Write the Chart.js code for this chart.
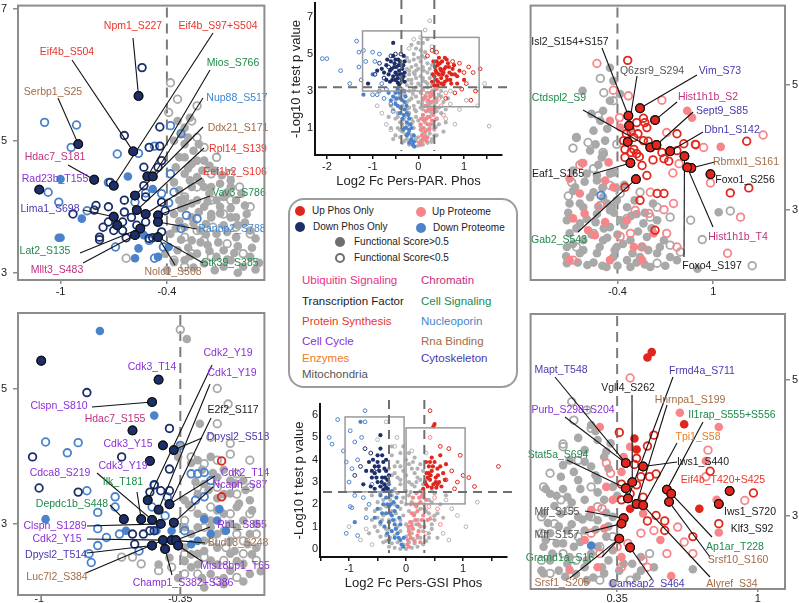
<!DOCTYPE html>
<html>
<head>
<meta charset="utf-8">
<script src="https://cdn.jsdelivr.net/npm/chart.js@4.4.1/dist/chart.umd.min.js"></script>
<style>
body { margin: 0; background: #fff; }
#page { position: relative; width: 799px; height: 603px; overflow: hidden; background: #fff; font-family: 'Liberation Sans', Arial, sans-serif; color: #222; }
#page canvas { position: absolute; }
#legend { position: absolute; left: 288px; top: 198px; width: 230px; height: 190px; box-sizing: border-box; border: 2px solid #9c9c9c; border-radius: 16px; }
#legend .t { position: absolute; white-space: nowrap; transform: translateY(-50%); line-height: 1; }
#legend .s { font-size: 10px; color: #222; }
#legend .c { font-size: 11.5px; }
#legend .dot { position: absolute; width: 10px; height: 10px; border-radius: 50%; transform: translate(-50%, -50%); box-sizing: border-box; }
</style>
</head>
<body>
<div id="page">
  <canvas id="tl" width="270" height="300" style="left:0;top:0"></canvas>
  <canvas id="tr" width="274" height="300" style="left:525px;top:0"></canvas>
  <canvas id="bl" width="270" height="303" style="left:0;top:300px"></canvas>
  <canvas id="br" width="274" height="303" style="left:525px;top:300px"></canvas>
  <canvas id="par" width="240" height="195" style="left:280px;top:0"></canvas>
  <canvas id="gsi" width="240" height="208" style="left:280px;top:395px"></canvas>
  <div id="legend">
    <div class="dot" style="left:10px;top:11px;background:#e2261d"></div>
    <div class="t s" style="left:22px;top:11px">Up Phos Only</div>
    <div class="dot" style="left:10px;top:27px;background:#1c2f6b"></div>
    <div class="t s" style="left:23px;top:27px">Down Phos Only</div>
    <div class="dot" style="left:131px;top:12px;background:#f6868a"></div>
    <div class="t s" style="left:142px;top:12px">Up Proteome</div>
    <div class="dot" style="left:131px;top:28px;background:#4a82cc"></div>
    <div class="t s" style="left:143px;top:28px">Down Proteome</div>
    <div class="dot" style="left:50px;top:42px;background:#6e6e6e"></div>
    <div class="t s" style="left:64px;top:42px">Functional Score&gt;0.5</div>
    <div class="dot" style="left:50px;top:58px;border:2px solid #6e6e6e"></div>
    <div class="t s" style="left:64px;top:58px">Functional Score&lt;0.5</div>
    <div class="t c" style="left:12px;top:81px;color:#ec2f88">Ubiquitin Signaling</div>
    <div class="t c" style="left:131px;top:81px;color:#c2307f">Chromatin</div>
    <div class="t c" style="left:12px;top:102px;color:#1a1a1a">Transcription Factor</div>
    <div class="t c" style="left:131px;top:102px;color:#1e8a4a">Cell Signaling</div>
    <div class="t c" style="left:12px;top:122px;color:#e8352b">Protein Synthesis</div>
    <div class="t c" style="left:131px;top:122px;color:#3f86d0">Nucleoporin</div>
    <div class="t c" style="left:12px;top:142px;color:#8b2fd8">Cell Cycle</div>
    <div class="t c" style="left:131px;top:142px;color:#a36c45">Rna Binding</div>
    <div class="t c" style="left:12px;top:159px;color:#f07a1c">Enzymes</div>
    <div class="t c" style="left:131px;top:159px;color:#4738b0">Cytoskeleton</div>
    <div class="t c" style="left:12px;top:175px;color:#555555">Mitochondria</div>
  </div>
</div>
<script>
const FONT = "'Liberation Sans', Arial, sans-serif";
const RED = '#e2261d', NAVY = '#1c2f6b', PINK = '#f6868a', BLUE = '#4a82cc', GREY = '#a9a9a9';
const CAT = {
    ubiq: '#ec2f88', chrom: '#c2307f', tf: '#1a1a1a', cell: '#1e8a4a', prot: '#e8352b',
    nuc: '#3f86d0', cyc: '#8b2fd8', rna: '#a36c45', enz: '#f07a1c', cyto: '#4738b0', mito: '#555555'
};

// ---------- top-left: down phos, Pers vs PAR (zoom) ----------
const tlKey = [[-0.56,5.68],[-0.90,4.95],[-0.59,4.84],[-0.81,4.41],[-1.12,4.26],[-0.70,4.32],[-0.51,4.46],[-0.48,4.46],[-0.58,4.17],[-0.57,3.95],[-0.70,3.85],[-0.52,3.89],[-0.45,3.87],[-0.45,3.77],[-0.68,3.72],[-0.55,3.67],[-0.58,3.57],[-0.45,3.54]];
const tlNames = [['Npm1_S227','prot',0],['Eif4b_S97+S504','prot',5],['Eif4b_S504','prot',2],['Mios_S766','cell',6],['Serbp1_S25','rna',1],['Nup88_S517','nuc',7],['Ddx21_S171','rna',8],['Rpl14_S139','prot',9],['Hdac7_S181','chrom',3],['Eef1b2_S106','prot',11],['Rad23b_T155','cyc',-1],['Vav3_S786','cell',12],['Lima1_S698','cyto',10],['Ranbp2_S788','nuc',13],['Lat2_S135','cell',15],['Stk39_S385','cell',17],['Mllt3_S483','chrom',16],['Nolc1_S508','rna',17]];
const tlNavyOpen = [[-0.54,6.11],[-0.64,5.08],[-0.44,5.21],[-0.50,4.90],[-0.44,4.92],[-0.43,4.70],[-0.53,4.60],[-0.45,4.60],[-0.72,4.37],[-0.53,4.32],[-0.64,4.10],[-0.52,4.15],[-0.43,4.07],[-0.80,4.02],[-0.81,3.95],[-0.93,3.89],[-0.73,4.00],[-0.64,3.92],[-0.60,3.84],[-0.73,3.77],[-0.65,3.77],[-0.76,3.69],[-0.70,3.64],[-0.65,3.64],[-0.78,3.54],[-0.78,3.50],[-0.63,3.53],[-0.50,3.52],[-0.48,3.53],[-0.43,3.62],[-0.52,3.77],[-0.41,3.94],[-0.57,3.72]];
const tlBlueOpen = [[-1.09,5.28],[-0.91,5.24],[-0.94,4.90],[-0.68,4.80],[-0.56,4.81],[-0.38,5.23],[-0.32,5.11],[-0.47,4.92],[-0.73,4.37],[-1.07,4.22],[-1.01,4.07],[-0.85,3.94],[-0.52,4.21],[-0.58,4.07],[-0.39,4.06],[-0.36,4.22],[-0.43,4.20],[-0.29,3.87],[-0.69,3.39],[-0.47,3.22],[-0.42,3.39],[-0.50,3.49],[-0.38,4.50],[-0.23,3.82],[-0.32,3.67]];
const tlBlueFill = [[-1.0,4.42],[-0.88,3.82],[-1.01,3.53],[-1.0,3.53],[-0.62,4.46],[-0.48,4.27],[-0.53,3.57],[-0.58,3.22],[-0.45,3.24],[-0.39,3.39],[-0.56,3.37]];
const tlGreyOpen = [[-0.38,5.88],[-0.34,5.63],[-0.23,5.53],[-0.39,5.43],[-0.26,5.30],[-0.23,5.05],[-0.19,4.90],[-0.12,4.75],[-0.15,4.50],[-0.04,4.50],[0.01,4.30],[-0.23,4.30],[-0.30,4.15],[-0.15,4.10],[-0.04,4.10],[0.07,4.00],[-0.08,3.89],[-0.23,3.64],[-0.14,3.69],[-0.01,3.69],[-0.30,3.54],[-0.19,3.49],[-0.06,3.44],[-0.26,3.29],[-0.15,3.24],[-0.36,3.19],[0.07,3.59],[0.03,3.29],[-0.63,3.22],[-0.30,3.09]];
const tlGreyFill = [[-0.34,5.30],[-0.30,5.20],[-0.27,5.35],[-0.36,5.0],[-0.30,4.95],[-0.25,4.85],[-0.33,4.75],[-0.26,4.65],[-0.19,4.70],[-0.30,4.50],[-0.23,4.45],[-0.13,4.55],[-0.36,4.37],[-0.26,4.30],[-0.19,4.30],[-0.10,4.35],[-0.04,4.30],[-0.33,4.10],[-0.23,4.10],[-0.12,4.10],[-0.01,4.10],[-0.19,4.0],[-0.36,3.89],[-0.26,3.84],[-0.15,3.84],[-0.04,3.84],[0.05,3.89],[-0.30,3.69],[-0.21,3.64],[-0.12,3.59],[-0.01,3.54],[-0.38,3.59],[-0.26,3.49],[-0.17,3.42],[-0.08,3.34],[-0.34,3.34],[-0.23,3.29],[-0.12,3.24],[-0.04,3.19],[0.07,3.24],[-0.30,3.19],[-0.19,3.14],[-0.08,3.09],[0.03,3.09],[-0.15,3.89],[-0.08,4.15],[-0.15,4.30],[-0.23,4.70],[-0.30,4.75],[-0.04,4.40],[-0.01,3.84],[0.07,3.64],[-0.41,3.29],[-0.30,4.0],
    [-0.32,5.10],[-0.28,5.05],[-0.22,4.95],[-0.35,4.60],[-0.28,4.58],[-0.20,4.55],[-0.16,4.62],[-0.09,4.48],[-0.27,4.40],[-0.21,4.38],[-0.33,4.25],[-0.16,4.20],[-0.06,4.22],[0.02,4.20],[-0.30,4.12],[-0.26,4.05],[-0.17,4.08],[-0.10,4.00],[-0.04,3.98],[0.04,4.02],[-0.32,3.98],[-0.22,3.92],[-0.10,3.90],[0.00,3.72],[-0.33,3.78],[-0.25,3.75],[-0.18,3.74],[-0.08,3.72],[0.04,3.76],[-0.35,3.67],[-0.18,3.58],[-0.06,3.62],[0.10,3.52],[-0.32,3.50],[-0.21,3.46],[-0.11,3.46],[0.00,3.40],[0.08,3.38],[-0.28,3.38],[-0.16,3.33],[-0.02,3.30],[-0.27,3.25],[-0.06,3.20],[0.12,3.15],[-0.36,3.16],[-0.25,3.08],[-0.13,3.04],[0.00,3.00],[0.10,3.05],[-0.40,3.04]];

// ---------- top-right: up phos, Pers vs PAR (zoom) ----------
const trKey = [[-0.24,4.51],[-0.23,4.35],[-0.07,4.63],[0.15,4.44],[0.08,4.0],[0.17,4.04],[0.37,3.94],[0.68,3.67],[-0.21,3.75],[0.96,3.57],[-0.13,3.49],[0.62,3.68],[0.58,3.86],[-0.25,4.09]];
const trNames = [['Isl2_S154+S157','tf',0],['Q6zsr9_S294','mito',1],['Vim_S73','cyto',2],['Hist1h1b_S2','chrom',3],['Ctdspl2_S9','cell',4],['Sept9_S85','cyto',5],['Dbn1_S142','cyto',6],['Rbmxl1_S161','rna',7],['Eaf1_S165','tf',8],['Foxo1_S256','tf',-1],['Gab2_S543','cell',10],['Hist1h1b_T4','chrom',11],['Foxo4_S197','tf',12]];
const trRedOpen = [[-0.25,5.40],[-0.02,4.47],[0.0,4.40],[-0.12,4.40],[-0.31,4.11],[-0.16,4.16],[-0.02,4.11],[-0.16,3.97],[-0.12,3.90],[-0.29,3.97],[-0.29,3.84],[-0.04,3.71],[0.03,3.55],[0.25,3.92],[0.28,3.82],[0.47,3.95],[0.57,4.06],[0.74,4.05],[-0.29,3.36],[0.18,3.26],[0.28,3.26],[-0.07,3.15],[0.15,2.67],[0.03,4.32],[1.49,4.10],[1.25,3.27],[1.52,3.35],[0.47,4.22],[-0.20,4.25],[-0.10,4.22],[-0.27,4.22],[-0.20,3.92],[0.05,4.10],[-0.08,3.85],[0.12,3.80],[0.35,3.78]];
const trPinkOpen = [[-0.70,5.35],[-0.46,4.92],[-0.24,4.83],[0.25,4.76],[-0.37,4.48],[0.32,4.24],[0.86,4.0],[0.75,4.04],[0.41,3.59],[0.50,3.74],[1.73,4.20],[0.96,3.43],[1.40,2.88],[1.21,2.30],[0.08,3.28],[-0.14,2.99],[0.06,2.94],[0.28,3.0],[0.42,3.10],[-0.95,3.72],[-0.36,2.57],[0.47,2.40],[-0.04,2.40],[-0.21,2.62],[-0.65,3.07],[0.32,2.62],[-1.05,2.19]];
const trPinkFill = [[0.62,4.59],[0.69,4.48],[1.11,4.01],[-0.90,3.75],[-1.10,3.50],[-0.53,3.76],[-0.51,4.43],[-0.36,4.32],[-0.21,4.30],[-0.95,3.26],[-0.83,2.67],[-0.58,2.80],[-0.88,2.94],[-0.73,2.59],[-1.10,2.19],[-0.51,2.19],[-0.26,2.83],[-0.04,2.19],[0.13,2.62],[-0.46,3.36],[-0.58,3.47],[-0.16,2.40],[-1.05,2.86]];
const trBlueOpen = [[-0.64,3.23]];
const trGreyOpen = [[-0.65,5.11],[-0.60,4.88],[-0.46,4.75],[-0.68,4.51],[-1.0,4.16],[-1.05,3.99],[-0.41,4.05],[-0.83,4.08],[-0.61,3.92],[-0.75,3.66],[-1.07,3.44],[-0.51,3.39],[-0.36,3.26],[-1.12,3.22],[-0.07,3.28],[0.18,3.04],[-0.26,2.86],[0.08,2.88],[0.37,2.88],[0.67,2.83],[1.25,2.98],[0.84,2.52],[0.37,2.43],[1.57,2.10],[0.52,2.32],[0.18,2.14],[-0.75,2.62],[-1.0,2.40]];
const trGreyFill = [[-0.91,4.91],[-0.51,5.28],[-0.46,5.07],[-0.78,4.54],[-0.65,4.43],[-1.0,4.16],[-0.61,4.59],[-0.51,4.75],[-0.75,4.27],[-0.58,4.11],[-0.80,3.95],[-0.63,3.84],[-1.05,3.63],[-0.85,3.58],[-0.70,3.47],[-0.51,3.58],[-1.02,3.36],[-0.75,3.28],[-0.61,3.20],[-0.41,3.15],[-1.10,3.10],[-0.90,3.04],[-0.70,2.93],[-0.51,2.99],[-0.26,3.04],[-0.12,2.93],[-1.14,2.83],[-0.95,2.78],[-0.51,2.72],[-0.36,2.83],[-0.02,2.78],[0.18,2.83],[-1.10,2.62],[-0.90,2.51],[-0.61,2.51],[-0.41,2.40],[-0.21,2.51],[0.03,2.56],[0.28,2.51],[-1.14,2.40],[-0.95,2.30],[-0.70,2.30],[-0.46,2.24],[-0.26,2.19],[-0.07,2.24],[0.18,2.30],[0.37,2.24],[-1.14,2.14],[-0.84,2.11],[-0.56,2.08],[-0.21,2.08],[0.08,2.08],[0.47,2.19],[1.08,2.96],[0.77,2.05],[-0.36,4.86],
    [-1.12,2.95],[-1.0,2.70],[-0.95,3.10],[-0.85,2.85],[-0.80,3.20],[-0.72,2.80],[-0.68,3.05],[-0.60,2.70],[-0.55,3.10],[-0.45,2.95],[-0.40,2.60],[-0.30,2.75],[-0.20,2.90],[-0.10,2.65],[0.00,2.95],[0.10,2.70],[-1.05,2.45],[-0.90,2.35],[-0.78,2.60],[-0.66,2.40],[-0.55,2.55],[-0.44,2.35],[-0.32,2.45],[-0.18,2.30],[-0.05,2.40],[0.05,2.35],[0.22,2.40],[-1.15,2.25],[-0.98,2.15],[-0.75,2.15],[-0.62,2.10],[-0.40,2.10],[-0.12,2.15],[0.00,2.12],[0.30,2.10],[-0.88,3.45],[-0.70,3.55],[-0.62,3.35],[-0.42,3.35],[-0.92,3.75],[-0.68,3.72],[-0.45,3.60],[-0.72,4.05],[-0.60,3.90],[-0.55,4.30],[-0.30,3.40],[-0.15,3.15],[0.12,3.10],[-0.48,3.05],[-1.05,3.30]];

// ---------- bottom-left: down phos, Pers vs GSI (zoom) ----------
const blKey = [[-0.99,5.41],[-0.45,5.13],[-0.48,4.80],[-0.57,4.38],[-0.43,4.16],[-0.38,4.09],[-0.49,3.93],[-0.50,3.35],[-0.45,3.21],[-0.40,3.29],[-0.61,3.07],[-0.53,3.07],[-0.48,3.06],[-0.44,3.00],[-0.38,3.02],[-0.43,2.76],[-0.39,2.76],[-0.37,2.76],[-0.48,2.68],[-0.42,2.63],[-0.36,2.68]];
const blNames = [['Cdk2_Y19','cyc',7],['Cdk3_T14','cyc',-1],['Cdk1_Y19','cyc',8],['Clspn_S810','cyc',2],['E2f2_S117','tf',9],['Hdac7_S155','chrom',-1],['Dpysl2_S518','cyto',5],['Cdk3_Y15','cyc',-1],['Cdk3_Y19','cyc',-1],['Cdca8_S219','cyc',12],['Cdk2_T14','cyc',9],['Ilk_T181','cell',11],['Ncaph_S87','cyc',14],['Depdc1b_S448','cell',10],['Clspn_S1289','cyc',13],['Rb1_S855','cyc',17],['Cdk2_Y15','cyc',15],['Bud13_S248','rna',16],['Dpysl2_T514','cyto',18],['Mis18bp1_T653','cyc',20],['Luc7l2_S384','rna',15],['Champ1_S382+S386','cyc',19]];
const blNavyOpen = [[-0.78,4.94],[-0.40,4.41],[-1.03,3.99],[-0.62,3.99],[-1.0,3.53],[-0.82,3.47],[-0.40,3.81],[-0.47,3.58],[-0.44,3.49],[-0.40,3.49],[-0.38,3.01],[-0.49,2.90],[-0.57,2.85],[-0.56,2.70],[-0.47,2.90],[-0.49,3.47],[-0.52,2.85]];
const blBlueFill = [[-0.72,5.85],[-0.47,4.60],[-0.97,3.07],[-0.60,2.90],[-0.46,2.90],[-0.39,2.90],[-0.24,3.07],[-0.21,2.85],[-0.27,2.75],[-0.30,2.70],[-0.18,3.05],[-0.17,3.22],[-0.14,2.90]];
const blBlueOpen = [[-0.97,4.21],[-0.82,4.20],[-0.87,4.05],[-0.78,3.49],[-0.73,3.17],[-0.73,2.93],[-0.65,3.40],[-0.65,3.25],[-0.73,2.68],[-0.77,2.56],[-0.76,2.43],[-0.69,2.80],[-0.63,2.85],[-0.54,2.60],[-0.47,3.57],[-0.41,3.40],[-0.35,4.16],[-0.30,3.74],[-0.27,3.74],[-0.24,3.76],[-0.28,3.35],[-0.24,3.40],[-0.21,3.64],[-0.48,3.25],[-0.42,3.12],[-0.33,2.90]];
const blRedOpen = [[-0.16,3.93],[-0.16,3.40]];
const blGreyOpen = [[-0.35,5.87],[-0.18,5.0],[-0.13,4.77],[-0.18,4.48],[-0.12,4.03],[-0.24,3.89],[-0.21,4.28],[-0.12,4.19],[-0.18,3.94],[-0.09,3.74],[-0.03,3.94],[-0.30,3.99],[-0.27,3.54],[-0.18,3.54],[-0.09,3.44],[-0.03,3.54],[-0.30,3.25],[-0.21,3.25],[-0.12,3.15],[-0.03,3.15],[-0.33,3.05],[-0.24,2.95],[-0.09,2.85],[0.0,2.85],[-0.33,2.56],[-0.24,2.51],[-0.15,2.46],[-0.06,2.56],[0.0,2.46],[-0.27,2.26],[-0.18,2.16],[-0.09,2.21],[-0.57,2.51],[-0.53,2.41],[-0.62,2.51],[-0.45,2.31],[-0.39,2.36],[-0.33,2.26],[-0.20,2.75],[-0.06,2.75],[-0.14,2.65]];
const blGreyFill = [[-0.32,5.73],[-0.26,4.48],[-0.35,4.16],[-0.36,3.99],[-0.27,3.94],[-0.21,3.99],[-0.24,3.59],[-0.18,3.69],[-0.12,3.64],[-0.15,3.44],[-0.06,3.64],[-0.33,3.35],[-0.27,3.15],[-0.21,3.05],[-0.15,3.15],[-0.09,3.25],[-0.03,3.35],[-0.30,2.85],[-0.24,2.75],[-0.18,2.85],[-0.12,2.75],[-0.03,2.85],[-0.27,2.56],[-0.21,2.46],[-0.12,2.56],[-0.06,2.41],[-0.30,2.36],[-0.21,2.26],[-0.12,2.31],[-0.03,2.26],[-0.15,2.11],[-0.24,2.06],[-0.33,2.65],[0.0,2.65],[-0.27,3.44],
    [-0.30,3.90],[-0.25,3.80],[-0.20,3.75],[-0.15,3.80],[-0.10,3.60],[-0.05,3.50],[-0.28,3.62],[-0.22,3.50],[-0.18,3.38],[-0.12,3.45],[-0.08,3.30],[-0.02,3.20],[-0.31,3.28],[-0.24,3.10],[-0.18,3.20],[-0.12,3.00],[-0.06,3.05],[0.00,3.00],[-0.33,2.95],[-0.27,2.95],[-0.21,2.95],[-0.15,2.90],[-0.09,2.95],[-0.04,2.70],[-0.30,2.55],[-0.24,2.60],[-0.18,2.65],[-0.10,2.60],[-0.02,2.55],[-0.27,2.40],[-0.18,2.40],[-0.09,2.45],[-0.25,2.20],[-0.15,2.20],[-0.06,2.15],[-0.33,2.45],[-0.36,2.20],[-0.40,2.50],[-0.45,2.40],[0.02,2.30]];

// ---------- bottom-right: up phos, Pers vs GSI (zoom) ----------
const brKey = [[0.39,3.78],[0.47,3.73],[0.42,3.50],[0.39,3.41],[0.40,3.26],[0.44,3.18],[0.47,3.16],[0.58,3.39],[0.60,3.33],[0.59,3.21],[0.87,3.37],[0.82,3.18],[0.38,2.97],[0.37,2.89],[0.36,2.67],[0.41,2.54]];
const brNames = [['Mapt_T548','cyto',0],['Frmd4a_S711','cyto',4],['Vgll4_S262','tf',2],['Hnrnpa1_S199','rna',5],['Purb_S298+S204','cyc',0],['Il1rap_S555+S556','cell',7],['Tpi1_S58','enz',6],['Iws1_S440','tf',1],['Stat5a_S694','cell',3],['Eif4b_T420+S425','prot',-1],['Iws1_S720','tf',-1],['Mff_S155','mito',12],['Klf3_S92','tf',-1],['Mff_S157','mito',13],['Ap1ar_T228','cell',8],['Gramd1a_S16','cell',14],['Srsf10_S160','rna',9],['Srsf1_S205','rna',14],['Camsap2_S464','cyto',15],['Alyref_S34','rna',6]];
const brRedFill = [[0.49,5.33],[0.51,5.41],[0.43,4.14],[0.66,4.35],[0.44,3.98],[0.73,3.11],[0.41,3.11]];
const brRedOpen = [[0.36,4.23],[0.49,4.03],[0.52,4.19],[0.44,3.85],[0.43,3.76],[0.37,3.47],[0.37,3.24],[0.44,3.46],[0.53,3.62],[0.47,3.28],[0.50,3.58],[0.78,3.66],[0.98,3.34],[0.57,2.93],[0.57,2.79],[0.70,2.70],[0.82,2.89],[0.49,2.93],[0.53,3.01],[0.41,3.33],[0.46,3.58]];
const brPinkOpen = [[0.41,5.03],[0.77,3.97],[0.76,3.58],[0.94,3.23],[0.30,3.78],[0.32,3.63],[0.52,2.79],[0.63,2.84],[0.66,2.62],[0.70,2.45],[0.58,2.45],[0.47,2.35],[0.37,2.25],[0.27,2.45],[0.23,2.75],[0.49,2.25],[0.40,2.60],[0.28,3.11],[0.35,2.55],[0.46,2.75]];
const brPinkFill = [[0.64,4.52],[0.82,4.31],[0.27,4.31],[0.76,3.81],[0.81,3.24],[0.82,2.76],[0.60,2.12],[0.37,3.65],[0.38,3.87],[0.41,4.02],[0.55,2.65],[0.29,2.82],[0.20,2.65],[0.23,3.09],[0.13,2.21],[0.30,3.43],[0.33,3.24],[0.47,3.04],[0.37,2.40],[0.26,2.25]];
const brBlueFill = [[0.23,2.57]];
const brGreyOpen = [[0.14,4.68],[0.10,4.06],[0.10,4.02],[0.23,4.29],[0.04,3.63],[0.17,3.82],[0.01,3.43],[0.23,3.43],[0.09,3.24],[0.0,2.99],[0.13,3.09],[0.26,3.14],[0.06,2.89],[0.23,2.99],[0.0,2.75],[0.17,2.70],[0.10,2.45],[0.27,2.55],[0.0,2.35],[0.16,2.35],[0.04,2.16],[0.27,2.06],[0.41,2.06],[0.50,2.45],[0.33,2.70],[0.15,4.41],[0.21,4.56]];
const brGreyFill = [[0.23,4.34],[0.26,4.12],[0.20,3.97],[0.29,3.87],[0.13,3.82],[0.23,3.73],[0.32,4.07],[0.09,3.58],[0.17,3.53],[0.26,3.53],[0.33,3.43],[0.04,3.33],[0.12,3.28],[0.20,3.24],[0.29,3.24],[0.01,3.04],[0.09,3.04],[0.17,2.99],[0.26,2.94],[0.33,2.99],[0.04,2.75],[0.12,2.79],[0.20,2.79],[0.30,2.70],[0.01,2.55],[0.07,2.60],[0.15,2.55],[0.23,2.45],[0.31,2.35],[0.04,2.35],[0.12,2.30],[0.20,2.25],[0.29,2.16],[0.38,2.30],[0.46,2.40],[0.52,2.25],[0.01,2.16],[0.11,2.11],[0.21,2.06],[0.33,2.01],[0.44,2.11],[0.70,2.22],
    [0.02,3.40],[0.06,3.15],[0.10,3.40],[0.14,3.20],[0.18,3.40],[0.22,3.00],[0.26,3.35],[0.30,3.05],[0.03,2.90],[0.08,2.85],[0.14,2.88],[0.19,2.95],[0.25,2.80],[0.31,2.85],[0.02,2.65],[0.10,2.60],[0.18,2.62],[0.26,2.55],[0.33,2.50],[0.05,2.45],[0.13,2.40],[0.21,2.35],[0.28,2.25],[0.08,2.20],[0.16,2.15],[0.24,2.10],[0.36,2.20],[0.42,2.30],[0.46,2.20],[0.00,2.20],[0.15,3.65],[0.20,3.80],[0.25,3.60],[0.10,3.75],[0.31,3.70],[0.17,4.15],[0.25,4.25],[0.30,3.95],[0.07,3.30],[0.35,3.30]];

// ---------- middle: full volcano, Pers vs PAR ----------
const parNavyFill = [[-0.8,4.2],[-0.75,4.0],[-0.7,4.4],[-0.65,3.9],[-0.6,4.6],[-0.58,4.2],[-0.55,3.8],[-0.52,4.5],[-0.5,4.0],[-0.48,4.3],[-0.45,3.7],[-0.44,4.7],[-0.42,4.1],[-0.4,3.9],[-0.38,4.4],[-0.36,3.6],[-0.35,4.2],[-0.33,3.8],[-0.32,4.9],[-0.3,4.0],[-0.3,3.5],[-0.55,5.6],[-0.62,3.5],[-0.9,4.1],[-1.1,3.4],[-0.45,3.45],[-0.4,4.6],[-0.5,3.6],[-0.35,3.7],[-0.7,3.6],
    [-0.62,4.1],[-0.57,3.6],[-0.53,4.3],[-0.47,3.9],[-0.43,4.4],[-0.37,3.9],[-0.33,4.4],[-0.3,4.6],[-0.68,4.7],[-0.55,4.9],[-0.42,3.35],[-0.5,4.7]];
const parNavyOpen = [[-0.85,4.5],[-0.6,4.9],[-0.75,3.7],[-0.95,3.9],[-0.5,5.0],[-0.65,4.3],[-0.38,5.0],[-0.42,3.55]];
const parBlueFill = [[-1.0,3.9],[-0.55,2.7],[-0.45,2.2],[-0.35,1.5],[-0.3,1.0],[-0.25,0.6],[-0.2,0.2],[-0.5,2.9],[-0.6,2.5],[-0.4,1.8],[-0.35,2.5],[-0.3,2.0],[-0.25,1.3],[-0.2,0.9],[-0.15,0.4],[-0.45,3.1],[-0.3,3.0],[-0.28,2.7],[-0.22,1.7],[-0.18,1.2],[-0.4,2.6],[-0.5,2.3],[-0.33,0.9],[-0.12,0.1],[-0.1,0.6],[-0.65,2.9],[-1.2,2.8],
    [-0.38,2.1],[-0.32,1.7],[-0.27,1.0],[-0.22,0.7],[-0.17,0.3],[-0.42,2.9],[-0.36,3.0],[-0.3,2.4],[-0.25,1.8],[-0.2,1.5],[-0.15,1.0],[-0.1,0.25],[-0.48,2.6],[-0.08,0.0],[-0.26,2.2]];
const parBlueOpen = [[-2.1,4.75],[-2.0,4.75],[-1.7,4.1],[-1.35,5.7],[-1.3,5.1],[-1.2,5.2],[-1.0,5.1],[-1.15,4.6],[-1.3,4.3],[-1.25,3.6],[-0.95,4.6],[-0.85,5.0],[-0.8,3.4],[-0.7,3.1],[-1.0,2.8],[-0.9,2.8],[-0.6,2.3],[-0.75,2.6],[-1.5,3.4],[-0.85,3.0],[-0.55,1.9]];
const parRedFill = [[0.3,3.5],[0.35,3.8],[0.38,4.1],[0.4,3.6],[0.42,4.4],[0.45,3.9],[0.48,4.2],[0.5,3.7],[0.52,4.6],[0.55,4.0],[0.58,3.5],[0.6,4.3],[0.62,3.8],[0.65,4.5],[0.68,4.0],[0.7,3.6],[0.75,4.2],[0.8,3.9],[0.85,3.4],[0.9,4.1],[0.45,4.8],[0.35,3.3],[0.55,3.35],[0.4,4.0],[0.5,4.1],[0.33,4.6],[1.0,3.6],[0.72,3.4],[0.62,4.7],
    [0.32,3.9],[0.37,4.3],[0.43,3.5],[0.47,4.5],[0.53,3.9],[0.57,4.2],[0.63,3.6],[0.67,4.3],[0.73,3.9],[0.78,4.4],[0.85,3.8],[0.42,3.3],[0.5,3.4],[0.58,4.8],[0.4,4.6]];
const parRedOpen = [[1.1,4.3],[1.2,4.0],[1.35,4.2],[1.05,3.4],[0.95,3.1],[0.8,2.9],[1.25,3.0],[1.15,2.5],[0.3,5.2],[0.2,4.9],[0.75,4.6],[0.9,4.5],[1.0,4.0],[0.4,5.1],[0.6,2.6]];
const parPinkFill = [[0.05,0.1],[0.1,0.4],[0.15,0.8],[0.2,1.2],[0.25,1.6],[0.3,2.0],[0.35,2.5],[0.08,0.6],[0.12,1.0],[0.18,1.5],[0.22,2.0],[0.28,2.4],[0.32,2.8],[0.15,2.2],[0.25,2.9],[0.1,1.7],[0.2,0.5],[0.05,1.2],[0.4,3.1],[0.3,1.4],[0.35,1.0],[0.16,2.7],[0.06,0.3],[0.24,0.9],
    [0.02,0.2],[0.07,0.9],[0.12,1.4],[0.17,1.9],[0.22,2.5],[0.27,2.7],[0.3,2.9],[0.18,0.3],[0.26,1.2],[0.33,1.7],[0.38,2.1],[0.1,2.6],[0.14,0.5],[0.2,2.2],[0.06,1.5]];
const parPinkOpen = [[0.45,2.6],[0.5,2.2],[0.55,1.7],[0.4,1.5],[0.12,2.9],[0.6,2.9]];
const parGreyOpen = [[0.25,6.8],[0.15,6.3],[-0.1,5.8],[0.05,5.9],[-0.2,5.3],[0.3,5.4],[0.7,2.3],[0.9,2.0],[1.05,2.5],[1.3,3.1],[1.45,3.4],[-0.7,1.2],[-0.8,1.8],[0.6,1.5],[0.8,1.2],[-0.6,0.9],[1.3,2.2],[1.55,1.1],[-0.9,2.2],[0.7,3.0]];
const parGreyFill = [[-0.4,0.5],[-0.3,0.3],[-0.2,0.1],[-0.1,0.0],[0.0,0.05],[0.1,0.1],[0.2,0.2],[0.3,0.4],[0.4,0.6],[-0.45,1.0],[-0.35,0.8],[-0.15,0.6],[0.0,0.5],[0.15,0.4],[0.35,0.9],[0.45,1.2],[-0.5,1.5],[-0.4,1.3],[-0.25,1.1],[-0.1,1.0],[0.05,0.9],[0.25,1.0],[0.4,1.5],[0.5,1.8],[-0.55,2.0],[-0.45,1.8],[-0.3,1.6],[-0.15,1.5],[0.0,1.4],[0.15,1.3],[0.3,1.8],[0.45,2.1],[-0.5,2.5],[-0.35,2.2],[-0.2,2.1],[-0.05,1.9],[0.1,2.0],[0.25,2.3],[0.4,2.6],[0.55,2.4],[-0.45,3.0],[-0.3,2.8],[-0.15,2.6],[0.0,2.4],[0.15,2.6],[0.3,3.0],[0.5,3.0],[-0.4,3.4],[-0.25,3.3],[-0.1,3.1],[0.05,2.9],[0.2,3.2],[0.35,3.1],[-0.3,3.8],[-0.15,3.6],[0.0,3.4],[0.15,3.5],[0.25,3.7],[-0.25,4.2],[-0.1,4.0],[0.05,3.8],[0.2,4.0],[-0.2,4.6],[-0.05,4.4],[0.1,4.3],[0.15,4.8],[-0.1,5.0],[0.05,5.2],[-0.15,5.5],[0.1,5.6],
    [-0.35,0.2],[-0.25,0.4],[-0.05,0.3],[0.05,0.15],[0.15,0.6],[0.25,0.7],[0.35,0.6],[-0.4,0.9],[-0.2,0.8],[0.1,0.7],[0.3,1.2],[0.2,0.9],[-0.35,1.2],[-0.15,1.2],[0.05,1.1],[0.2,1.6],[0.35,1.4],[-0.45,1.6],[-0.2,1.8],[-0.05,1.6],[0.1,1.7],[0.25,1.9],[0.4,1.9],[-0.4,2.1],[-0.25,2.4],[-0.1,2.2],[0.05,2.1],[0.2,2.4],[0.35,2.3],[0.5,2.7],[-0.4,2.7],[-0.2,2.5],[-0.05,2.7],[0.1,2.5],[0.25,2.7],[0.45,2.8],[-0.35,3.1],[-0.2,3.0],[-0.05,3.2],[0.1,3.1],[0.3,3.3],[-0.3,3.5],[-0.15,3.4],[0.05,3.3],[0.2,3.4],[-0.2,3.9],[-0.05,3.7],[0.1,3.7],[0.3,3.9],[-0.15,4.3],[0.0,4.2],[0.12,4.1],[-0.1,4.7],[0.05,4.6],[0.2,4.5],[-0.05,5.3],[0.15,5.1],[0.0,5.6],[0.2,5.8],[-0.5,0.6],
    [-0.6,1.0],[-0.55,0.4],[-0.65,1.6],[-0.6,2.2],[0.55,0.8],[0.6,1.3],[0.6,2.0],[0.65,2.6],[-0.05,0.45],[0.1,0.3],[-0.28,0.65],[0.28,0.25],[-0.12,1.35],[0.12,1.5],[-0.32,1.45],[0.38,1.05],[-0.08,2.0],[0.08,2.3],[-0.25,2.0],[0.28,2.1],[-0.12,2.85],[0.2,2.9],[-0.35,2.5],[0.4,2.4],[-0.22,3.6],[0.1,3.55],[-0.08,3.9],[0.25,4.2],[-0.2,4.1],[0.08,4.9],[-0.05,4.1],[0.3,4.4],[-0.25,4.8],[0.0,4.8]];

// ---------- middle: full volcano, Pers vs GSI ----------
const gsiNavyFill = [[-0.55,3.4],[-0.5,3.0],[-0.48,3.7],[-0.45,2.8],[-0.42,3.2],[-0.4,3.9],[-0.38,2.9],[-0.35,3.5],[-0.33,3.1],[-0.32,2.7],[-0.5,4.2],[-0.45,4.5],[-0.6,3.2],[-0.65,3.9],[-0.55,2.7],[-0.4,2.65],[-0.58,4.0],[-0.7,3.5],[-0.35,4.0],[-0.45,5.1],[-0.62,2.8],[-0.3,3.3],[-0.75,2.9],
    [-0.52,3.2],[-0.47,3.5],[-0.43,3.0],[-0.38,3.6],[-0.35,2.75],[-0.5,3.9],[-0.42,4.2],[-0.55,3.7],[-0.37,3.2],[-0.6,3.5]];
const gsiNavyOpen = [[-0.8,3.7],[-0.62,4.3],[-0.52,3.6],[-0.9,3.3],[-0.72,4.5]];
const gsiBlueFill = [[-0.35,2.3],[-0.3,1.9],[-0.25,1.5],[-0.2,1.1],[-0.15,0.7],[-0.1,0.4],[-0.05,0.1],[-0.4,2.0],[-0.35,1.6],[-0.3,1.2],[-0.25,0.8],[-0.2,0.5],[-0.45,2.4],[-0.38,1.0],[-0.28,2.4],[-0.15,1.9],[-0.12,1.4],[-0.3,0.4],[-0.55,1.4],[-0.5,1.8],[-0.45,1.2],[-0.9,1.2],[-0.8,5.7],[-0.3,2.9],[-0.22,2.1],
    [-0.33,2.0],[-0.28,1.6],[-0.23,1.3],[-0.18,0.9],[-0.13,0.5],[-0.08,0.2],[-0.37,2.6],[-0.27,2.0],[-0.2,1.7],[-0.1,1.1],[-0.04,0.5],[-0.42,1.6],[-0.33,0.7],[-0.25,2.6],[-0.17,2.3]];
const gsiBlueOpen = [[-1.35,5.0],[-1.3,4.7],[-1.2,5.8],[-1.1,4.4],[-0.98,5.3],[-0.95,3.6],[-0.85,4.0],[-0.9,4.8],[-0.72,6.2],[-0.72,5.7],[-0.78,5.0],[-1.0,3.0],[-0.98,1.9],[-0.95,1.85],[-0.9,2.4],[-0.75,2.3],[-0.65,2.0],[-0.7,1.4],[-1.05,0.7],[-0.85,0.6],[-0.6,2.9],[-1.05,3.9]];
const gsiRedFill = [[0.3,2.7],[0.33,3.0],[0.36,3.4],[0.38,2.8],[0.4,3.7],[0.42,3.1],[0.45,3.5],[0.48,2.9],[0.5,3.9],[0.52,3.2],[0.55,3.6],[0.58,3.0],[0.6,4.2],[0.45,4.1],[0.35,3.9],[0.65,3.4],[0.7,3.8],[0.48,5.5],[0.5,5.6],[0.43,3.3],[0.38,3.2],[0.53,2.75],[0.62,2.8],
    [0.35,2.9],[0.4,3.4],[0.45,2.75],[0.47,3.7],[0.52,3.0],[0.56,3.3],[0.6,3.7],[0.42,3.9],[0.55,2.9],[0.68,3.1]];
const gsiRedOpen = [[0.42,6.2],[0.8,3.5],[0.9,3.0],[1.0,3.3],[1.1,3.2],[1.2,2.8],[1.62,3.7],[0.75,4.5],[0.95,4.2],[0.7,3.1],[0.85,2.7],[0.6,4.6]];
const gsiPinkFill = [[0.05,0.1],[0.08,0.5],[0.12,0.9],[0.16,1.3],[0.2,1.7],[0.25,2.1],[0.28,2.4],[0.1,1.6],[0.15,2.0],[0.05,0.8],[0.2,0.6],[0.22,1.1],[0.3,1.5],[0.12,2.3],[0.18,2.5],[0.07,1.2],[0.35,2.2],[0.32,1.0],[0.03,0.4],[0.25,0.3],
    [0.02,0.2],[0.06,0.65],[0.1,1.05],[0.14,1.5],[0.18,1.9],[0.23,2.3],[0.27,1.3],[0.32,1.8],[0.08,2.0],[0.15,0.35],[0.22,0.8],[0.3,2.5],[0.04,1.0],[0.38,1.3]];
const gsiPinkOpen = [[0.4,1.9],[0.45,1.4],[0.5,2.3],[0.55,1.8],[0.35,0.7],[0.6,1.1],[0.42,5.0]];
const gsiGreyOpen = [[-0.35,5.7],[-0.16,5.0],[-0.2,4.6],[0.1,4.4],[0.7,2.2],[0.8,1.8],[0.9,1.5],[1.05,1.0],[-0.7,0.9],[-0.8,0.4],[-0.6,0.2],[0.75,0.4],[1.25,2.1],[-0.5,4.9],[0.35,4.3],[0.65,0.7],[-1.0,1.0]];
const gsiGreyFill = [[-0.4,0.3],[-0.3,0.1],[-0.2,0.05],[-0.1,0.0],[0.0,0.0],[0.1,0.05],[0.2,0.1],[0.3,0.2],[0.4,0.5],[-0.5,0.8],[-0.35,0.6],[-0.15,0.3],[0.05,0.3],[0.25,0.5],[0.45,0.9],[-0.6,1.3],[-0.45,1.1],[-0.3,0.9],[-0.1,0.8],[0.1,0.7],[0.3,0.8],[0.5,1.3],[-0.55,1.7],[-0.4,1.5],[-0.2,1.3],[0.0,1.1],[0.2,1.3],[0.4,1.6],[0.55,1.6],[-0.5,2.1],[-0.35,1.9],[-0.1,1.8],[0.05,1.7],[0.25,1.8],[0.45,2.1],[0.6,2.0],[-0.45,2.5],[-0.25,2.4],[-0.05,2.3],[0.1,2.1],[0.3,2.3],[0.5,2.5],[-0.35,2.9],[-0.2,2.7],[0.0,2.6],[0.15,2.8],[0.3,2.9],[-0.25,3.3],[-0.1,3.1],[0.05,3.0],[0.2,3.2],[-0.2,3.7],[-0.05,3.5],[0.1,3.6],[0.25,3.8],[0.0,4.0],[-0.1,4.3],
    [-0.35,0.35],[-0.25,0.25],[-0.05,0.2],[0.15,0.25],[0.35,0.35],[-0.45,0.55],[-0.2,0.6],[0.0,0.55],[0.2,0.5],[0.4,0.7],[-0.55,1.0],[-0.35,0.9],[-0.15,1.0],[0.05,0.9],[0.25,1.0],[0.45,1.1],[-0.5,1.4],[-0.3,1.3],[-0.1,1.3],[0.1,1.2],[0.3,1.3],[0.5,1.5],[-0.45,1.8],[-0.25,1.7],[-0.05,1.5],[0.15,1.6],[0.35,1.7],[-0.4,2.2],[-0.2,2.0],[0.0,2.0],[0.2,2.0],[0.4,2.2],[-0.35,2.6],[-0.15,2.5],[0.05,2.4],[0.25,2.6],[0.45,2.6],[-0.3,3.0],[-0.1,2.9],[0.1,2.9],[0.25,3.1],[-0.2,3.4],[0.0,3.3],[0.15,3.4],[-0.15,3.9],[0.05,3.8],[0.2,3.6],[-0.05,4.6],[0.15,4.1],[-0.25,4.2],
    [-0.65,0.7],[-0.7,1.8],[-0.6,2.4],[0.55,0.5],[0.65,1.4],[0.7,2.4],[-0.28,0.5],[0.12,0.45],[-0.18,1.6],[0.18,1.1],[-0.42,1.3],[0.42,1.35],[-0.08,2.1],[0.08,2.55],[-0.28,2.2],[0.32,2.0],[-0.15,3.2],[0.18,3.0],[-0.4,2.8],[0.35,3.1],[-0.1,3.7],[0.12,3.9],[-0.3,3.6],[0.3,3.5],[-0.25,4.6],[0.05,4.3]];

// zoom-window boxes [xmin, xmax, ymin, ymax] and cut-offs shown on the volcanoes
const parBoxes = [[-1.22, 0.07, 3.0, 6.25], [0.07, 1.33, 2.15, 5.9]];
const gsiBoxes = [[-1.07, -0.035, 2.56, 5.92], [0, 1.035, 2.02, 5.43]];
const parCutX = [-0.37, 0.35], parCutY = 3.2;
const gsiCutX = [-0.3, 0.32], gsiCutY = 2.55;

// label placement (canvas px): [textX, textY, lineStartX, lineStartY]
const tlNotePos = [[133,26,133,38],[218,26,213,33],[67,52,72,60],[233,63,210,70],[53,92,58,98],[237,98,203,98],[238,128,203,127],[238,149,204,148],[55,157,68,165],[235,172,202,178],[55,179],[239,193,210,196],[50,209,83,210],[232,229,197,229],[45,251,80,253],[230,263,203,263],[57,270,83,263],[173,272,175,265]];
const trNotePos = [[45,42,77,48],[127,71,112,76],[195,71,172,75],[183,97,152,102],[34,98,58,110],[197,111,168,112],[207,130,178,132],[221,162,190,162],[33,174,68,174],[220,180],[34,240,53,232],[213,237,188,227],[187,266,159,257]];
const blNotePos = [[228,53,212,65],[152,67],[232,73,210,84],[59,106,92,107],[233,110,211,118],[115,119],[238,137,202,138],[128,144],[123,166],[60,173,97,173],[245,173,215,176],[123,182,137,192],[240,185,213,187],[72,204,110,205],[55,226,87,226],[242,225,210,227],[57,239,87,239],[238,243,205,243],[56,255,87,253],[238,266,203,262],[57,277,86,273],[183,283,172,275]];
const brNotePos = [[36,70,30,77],[177,71,148,77],[103,88,107,95],[165,100,142,105],[48,110,40,117],[207,115,178,122],[173,137,152,143],[178,162,152,162],[33,155,42,160],[198,180],[225,212],[32,212,60,211],[227,229],[32,235,60,233],[210,247,187,237],[35,258,77,257],[213,260,185,257],[37,283,45,278],[122,284,127,279],[207,284,185,277]];

function layer(data, color, filled, r, bw) {
    return {
        data: data.map(p => ({ x: p[0], y: p[1] })),
        pointRadius: r,
        pointHoverRadius: r,
        backgroundColor: filled ? color : 'rgba(0,0,0,0)',
        borderColor: color,
        borderWidth: filled ? 0 : bw
    };
}

function keyLayer(data, color) {
    return {
        data: data.map(p => ({ x: p[0], y: p[1] })),
        pointRadius: 4.3,
        pointHoverRadius: 4.3,
        backgroundColor: color,
        borderColor: '#111',
        borderWidth: 1.2
    };
}

function fixedTicks(values) {
    return s => { s.ticks = values.map(v => ({ value: v })); };
}

// panel frame + dashed cut-off line
function framePlugin(cut) {
    return {
        id: 'frame',
        beforeDatasetsDraw(chart) {
            const { ctx, chartArea: a, scales: { x } } = chart;
            const px = x.getPixelForValue(cut);
            ctx.save();
            ctx.setLineDash([10, 6]);
            ctx.strokeStyle = '#7c7c7c';
            ctx.lineWidth = 2;
            ctx.beginPath();
            ctx.moveTo(px, a.top + 2);
            ctx.lineTo(px, a.bottom);
            ctx.stroke();
            ctx.restore();
        },
        afterDraw(chart) {
            const { ctx, chartArea: a } = chart;
            ctx.save();
            ctx.strokeStyle = '#8c8c8c';
            ctx.lineWidth = 2;
            ctx.strokeRect(a.left, a.top, a.right - a.left, a.bottom - a.top);
            ctx.restore();
        }
    };
}

function calloutPlugin(names, pos, key) {
    return {
        id: 'callouts',
        afterDatasetsDraw(chart) {
            const { ctx, scales: { x, y } } = chart;
            ctx.save();
            ctx.strokeStyle = '#111';
            ctx.lineWidth = 1.1;
            names.forEach((n, i) => {
                const p = pos[i];
                if (n[2] < 0 || p.length < 4) return;
                const k = key[n[2]];
                ctx.beginPath();
                ctx.moveTo(p[2], p[3]);
                ctx.lineTo(x.getPixelForValue(k[0]), y.getPixelForValue(k[1]));
                ctx.stroke();
            });
            // labelled sites sit on top of their leader lines
            chart.getDatasetMeta(0).data.forEach(el => el.draw(ctx));
            ctx.font = '10.5px ' + FONT;
            ctx.textAlign = 'center';
            ctx.textBaseline = 'middle';
            names.forEach((n, i) => {
                ctx.fillStyle = CAT[n[1]];
                ctx.fillText(n[0], pos[i][0], pos[i][1]);
            });
            ctx.restore();
        }
    };
}

function panel(id, cfg) {
    const back = [
        layer(cfg.greyFill, GREY, true, 4.3),
        layer(cfg.greyOpen, GREY, false, 3.8, 1.8)
    ].concat(cfg.layers.map(l => layer(l[0], l[1], l[2], l[2] ? 4.3 : 3.8, 1.8)));
    back.push(keyLayer(cfg.key, cfg.keyColor));
    const datasets = back.reverse();
    const tickFont = { family: FONT, size: cfg.tickSize || 11 };
    new Chart(document.getElementById(id), {
        type: 'scatter',
        data: { datasets },
        options: {
            responsive: false,
            animation: false,
            events: [],
            layout: { padding: cfg.pad },
            plugins: { legend: { display: false }, tooltip: { enabled: false } },
            scales: {
                x: {
                    type: 'linear', position: 'bottom', min: cfg.xr[0], max: cfg.xr[1],
                    afterBuildTicks: fixedTicks(cfg.xt),
                    afterFit: s => { s.height = cfg.xh; s.paddingLeft = 0; s.paddingRight = 0; },
                    ticks: { autoSkip: false, maxRotation: 0, color: '#222', font: tickFont, padding: cfg.xpad, callback: v => String(v) },
                    grid: { drawOnChartArea: false, drawTicks: true, tickLength: cfg.xtl, color: '#8c8c8c', lineWidth: 1.5 },
                    border: { display: false }
                },
                y: {
                    type: 'linear', position: cfg.yPos, min: cfg.yr[0], max: cfg.yr[1],
                    afterBuildTicks: fixedTicks(cfg.yt),
                    afterFit: s => { s.width = cfg.yw; s.paddingTop = 0; s.paddingBottom = 0; },
                    ticks: { autoSkip: false, color: '#222', font: { family: FONT, size: 11 }, padding: cfg.ypad, callback: v => String(v) },
                    grid: { drawOnChartArea: false, drawTicks: true, tickLength: 5, color: '#8c8c8c', lineWidth: 1.5 },
                    border: { display: false }
                }
            }
        },
        plugins: [framePlugin(cfg.cut), calloutPlugin(cfg.names, cfg.pos, cfg.key)]
    });
}

function guidesPlugin(boxes, cutX, cutY) {
    return {
        id: 'guides',
        afterDatasetsDraw(chart) {
            const { ctx, chartArea: a, scales: { x, y } } = chart;
            ctx.save();
            ctx.strokeStyle = '#9a9a9a';
            ctx.lineWidth = 1.5;
            boxes.forEach(b => {
                const x0 = x.getPixelForValue(b[0]), x1 = x.getPixelForValue(b[1]);
                const y0 = y.getPixelForValue(b[3]), y1 = y.getPixelForValue(b[2]);
                ctx.strokeRect(x0, y0, x1 - x0, y1 - y0);
            });
            ctx.strokeStyle = '#6f6f6f';
            ctx.lineWidth = 2;
            ctx.setLineDash([9, 6]);
            cutX.forEach(c => {
                const px = x.getPixelForValue(c);
                ctx.beginPath();
                ctx.moveTo(px, Math.max(0, a.top - 4));
                ctx.lineTo(px, a.bottom - 4);
                ctx.stroke();
            });
            const py = y.getPixelForValue(cutY);
            ctx.beginPath();
            ctx.moveTo(a.left + 3, py);
            ctx.lineTo(a.right + 5, py);
            ctx.stroke();
            ctx.restore();
        }
    };
}

function volcano(id, cfg) {
    const back = [
        layer(cfg.greyFill, '#b3b3b3', true, 2.1),
        layer(cfg.greyOpen, '#b3b3b3', false, 1.9, 1),
        layer(cfg.pinkFill, PINK, true, 2.1),
        layer(cfg.pinkOpen, PINK, false, 1.9, 1),
        layer(cfg.blueFill, BLUE, true, 2.1),
        layer(cfg.blueOpen, BLUE, false, 1.9, 1),
        layer(cfg.redOpen, RED, false, 1.9, 1),
        layer(cfg.redFill, RED, true, 2.1),
        layer(cfg.navyOpen, NAVY, false, 1.9, 1),
        layer(cfg.navyFill, NAVY, true, 2.1)
    ];
    const datasets = back.reverse();
    const tickFont = { family: FONT, size: 11 };
    new Chart(document.getElementById(id), {
        type: 'scatter',
        data: { datasets },
        options: {
            responsive: false,
            animation: false,
            events: [],
            layout: { padding: cfg.pad },
            plugins: { legend: { display: false }, tooltip: { enabled: false } },
            scales: {
                x: {
                    type: 'linear', position: 'bottom', min: cfg.xr[0], max: cfg.xr[1],
                    afterBuildTicks: fixedTicks(cfg.xt),
                    afterFit: s => { s.height = cfg.xh; s.paddingLeft = 0; s.paddingRight = 0; },
                    ticks: { autoSkip: false, maxRotation: 0, color: '#222', font: tickFont, padding: 1,
                        callback: v => Number.isInteger(v) ? String(v) : '' },
                    grid: { drawOnChartArea: false, drawTicks: true, tickLength: 4, color: '#111', lineWidth: 1.5 },
                    border: { display: true, color: '#111', width: 2 },
                    title: { display: true, text: cfg.xTitle, color: '#222', font: { family: FONT, size: 13 }, padding: { top: 0, bottom: cfg.xTitlePad } }
                },
                y: {
                    type: 'linear', position: 'left', min: cfg.yr[0], max: cfg.yr[1],
                    afterBuildTicks: fixedTicks(cfg.yt),
                    afterFit: s => { s.width = cfg.yw; s.paddingTop = 0; s.paddingBottom = 0; },
                    ticks: { autoSkip: false, color: '#222', font: tickFont, padding: 2, callback: v => String(v) },
                    grid: { drawOnChartArea: false, drawTicks: false },
                    border: { display: true, color: '#111', width: 2 },
                    title: { display: true, text: '-Log10 t test p value', color: '#222', font: { family: FONT, size: 13 }, padding: { top: cfg.yTitlePad, bottom: 0 } }
                }
            }
        },
        plugins: [guidesPlugin(cfg.boxes, cfg.cutX, cfg.cutY)]
    });
}

panel('tl', {
    key: tlKey, keyColor: NAVY, names: tlNames, pos: tlNotePos, cut: -0.4,
    greyFill: tlGreyFill, greyOpen: tlGreyOpen,
    layers: [[tlBlueFill, BLUE, true], [tlBlueOpen, BLUE, false], [tlNavyOpen, NAVY, false]],
    xr: [-1.24, 0.15], yr: [2.89, 7.05], xt: [-1, -0.4], yt: [3, 5, 7],
    pad: { left: 0, top: 4, right: 2, bottom: 0 }, yPos: 'left', yw: 18, xh: 20, xtl: 4, xpad: 1, ypad: 6
});
panel('tr', {
    key: trKey, keyColor: RED, names: trNames, pos: trNotePos, cut: -0.4,
    greyFill: trGreyFill, greyOpen: trGreyOpen,
    layers: [[trPinkFill, PINK, true], [trPinkOpen, PINK, false], [trBlueOpen, BLUE, false], [trRedOpen, RED, false]],
    xr: [-1.67, 2.05], yr: [1.87, 6.28], xt: [-0.4, 1], yt: [3, 5],
    pad: { left: 5, top: 4, right: 0, bottom: 0 }, yPos: 'right', yw: 14, xh: 20, xtl: 4, xpad: 1, ypad: 2
});
panel('bl', {
    key: blKey, keyColor: NAVY, names: blNames, pos: blNotePos, cut: -0.35,
    greyFill: blGreyFill, greyOpen: blGreyOpen,
    layers: [[blRedOpen, RED, false], [blBlueFill, BLUE, true], [blBlueOpen, BLUE, false], [blNavyOpen, NAVY, false]],
    xr: [-1.097, 0.037], yr: [1.95, 6.115], xt: [-1, -0.35], yt: [3, 5],
    pad: { left: 0, top: 13, right: 2, bottom: 0 }, yPos: 'left', yw: 18, xh: 8, xtl: 0, xpad: -2, ypad: 6, tickSize: 10.5
});
panel('br', {
    key: brKey, keyColor: RED, names: brNames, pos: brNotePos, cut: 0.35,
    greyFill: brGreyFill, greyOpen: brGreyOpen,
    layers: [[brBlueFill, BLUE, true], [brPinkFill, PINK, true], [brPinkOpen, PINK, false], [brRedOpen, RED, false], [brRedFill, RED, true]],
    xr: [-0.05, 1.126], yr: [1.93, 5.97], xt: [0.35, 1], yt: [3, 5],
    pad: { left: 5, top: 14, right: 0, bottom: 0 }, yPos: 'right', yw: 14, xh: 14, xtl: 3, xpad: 0, ypad: 2
});

volcano('par', {
    navyFill: parNavyFill, navyOpen: parNavyOpen, blueFill: parBlueFill, blueOpen: parBlueOpen,
    redFill: parRedFill, redOpen: parRedOpen, pinkFill: parPinkFill, pinkOpen: parPinkOpen,
    greyFill: parGreyFill, greyOpen: parGreyOpen,
    boxes: parBoxes, cutX: parCutX, cutY: parCutY,
    xr: [-2.26, 1.83], yr: [-0.46, 7.76], xt: [-2, -1.5, -1, -0.5, 0, 0.5, 1, 1.5], yt: [1, 3, 5, 7],
    xTitle: 'Log2 Fc Pers-PAR. Phos', xTitlePad: 6, yTitlePad: 9,
    pad: { left: 0, top: 3, right: 18, bottom: 0 }, yw: 35, xh: 40
});
volcano('gsi', {
    navyFill: gsiNavyFill, navyOpen: gsiNavyOpen, blueFill: gsiBlueFill, blueOpen: gsiBlueOpen,
    redFill: gsiRedFill, redOpen: gsiRedOpen, pinkFill: gsiPinkFill, pinkOpen: gsiPinkOpen,
    greyFill: gsiGreyFill, greyOpen: gsiGreyOpen,
    boxes: gsiBoxes, cutX: gsiCutX, cutY: gsiCutY,
    xr: [-1.51, 1.77], yr: [-0.36, 6.5], xt: [-1.5, -1, -0.5, 0, 0.5, 1, 1.5], yt: [0, 1, 2, 3, 4, 5, 6],
    xTitle: 'Log2 Fc Pers-GSI Phos', xTitlePad: 12, yTitlePad: 12,
    pad: { left: 0, top: 9, right: 13, bottom: 0 }, yw: 40, xh: 46
});
</script>
</body>
</html>
